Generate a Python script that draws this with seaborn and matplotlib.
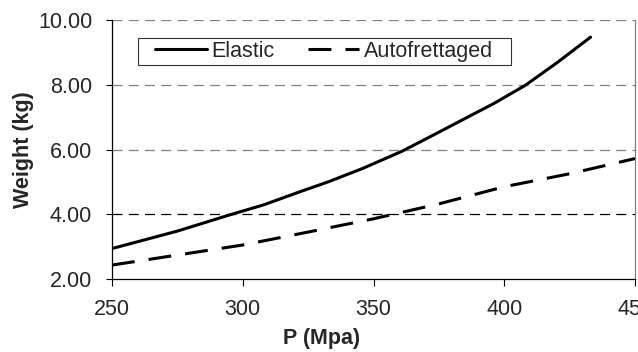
import matplotlib
matplotlib.use("Agg")
import matplotlib.pyplot as plt
from matplotlib.patches import Rectangle
import seaborn as sns
import pandas as pd

# ---- data ----
p_elastic = [250, 275, 295, 308, 321, 333, 346, 361, 373, 386, 396, 408, 420, 433]
w_elastic = [2.94, 3.48, 3.98, 4.29, 4.67, 5.01, 5.42, 5.95, 6.45, 7.00, 7.42, 7.98, 8.67, 9.47]

p_auto = [250, 275, 300, 325, 350, 375, 400, 425, 450]
w_auto = [2.43, 2.74, 3.05, 3.45, 3.86, 4.32, 4.85, 5.25, 5.72]

series_names = ["Elastic", "Autofrettaged"]
x_ticks = [250, 300, 350, 400, 450]
y_ticks = [2.0, 4.0, 6.0, 8.0, 10.0]
x_label = "P (Mpa)"
y_label = "Weight (kg)"

sns.set_style("white")
plt.rcParams["font.family"] = ["Liberation Sans", "DejaVu Sans"]

fig = plt.figure(figsize=(6.38, 3.52), dpi=100)
ax = fig.add_axes([112 / 638, 1 - 279 / 352, 523 / 638, 259 / 352])

df_e = pd.DataFrame({"P": p_elastic, "W": w_elastic})
df_a = pd.DataFrame({"P": p_auto, "W": w_auto})

# gridlines
for yv in y_ticks[1:]:
    col = "black" if yv == 4.0 else "#808080"
    ax.axhline(yv, color=col, lw=0.9, linestyle=(0, (8, 5)), zorder=1)

sns.lineplot(data=df_e, x="P", y="W", ax=ax, color="black", lw=2.2,
             label=series_names[0], sort=False, zorder=3)
sns.lineplot(data=df_a, x="P", y="W", ax=ax, color="black", lw=2.2,
             label=series_names[1], sort=False, zorder=3)
ax.lines[-1].set_dashes((7.5, 4.6))

ax.set_xlim(250, 450)
ax.set_ylim(2, 10)
ax.set_xticks(x_ticks)
ax.set_yticks(y_ticks)
ax.set_yticklabels([f"{v:.2f}" for v in y_ticks])

ax.tick_params(axis="x", direction="out", length=5, width=0.8, pad=9.4,
               labelsize=15.5, bottom=True, color="black")
ax.tick_params(axis="y", direction="out", length=4.3, width=0.8, pad=10,
               labelsize=15.5, left=True, color="black")

for s in ["left", "bottom"]:
    ax.spines[s].set_color("black")
    ax.spines[s].set_linewidth(0.9)
ax.spines["top"].set_visible(False)
ax.spines["right"].set_color("#808080")
ax.spines["right"].set_linewidth(0.9)

ax.set_xlabel(x_label, fontsize=15.5, fontweight="bold")
ax.set_ylabel(y_label, fontsize=15.5, fontweight="bold")
ax.xaxis.set_label_coords(0.4015, -0.189)
ax.yaxis.set_label_coords(-0.149, 0.5)

# legend box (drawn as a frame rectangle) and entries
x0, x1 = (138 - 112) / 523, (511 - 112) / 523
y0, y1 = (279 - 65) / 259, (279 - 38) / 259
ax.add_patch(Rectangle((x0, y0), x1 - x0, y1 - y0, transform=ax.transAxes,
                       facecolor="white", edgecolor="#333333", lw=0.8, zorder=4))
leg = ax.legend(loc="center left", bbox_to_anchor=((155 - 112) / 523, (y0 + y1) / 2),
                borderaxespad=0, ncol=2, fontsize=15.5, frameon=False,
                handlelength=2.4, handletextpad=0.2, columnspacing=1.55, borderpad=0)
leg.set_zorder(5)
for h in leg.get_lines():
    h.set_linewidth(2.2)

fig.savefig("out.png", dpi=100)
